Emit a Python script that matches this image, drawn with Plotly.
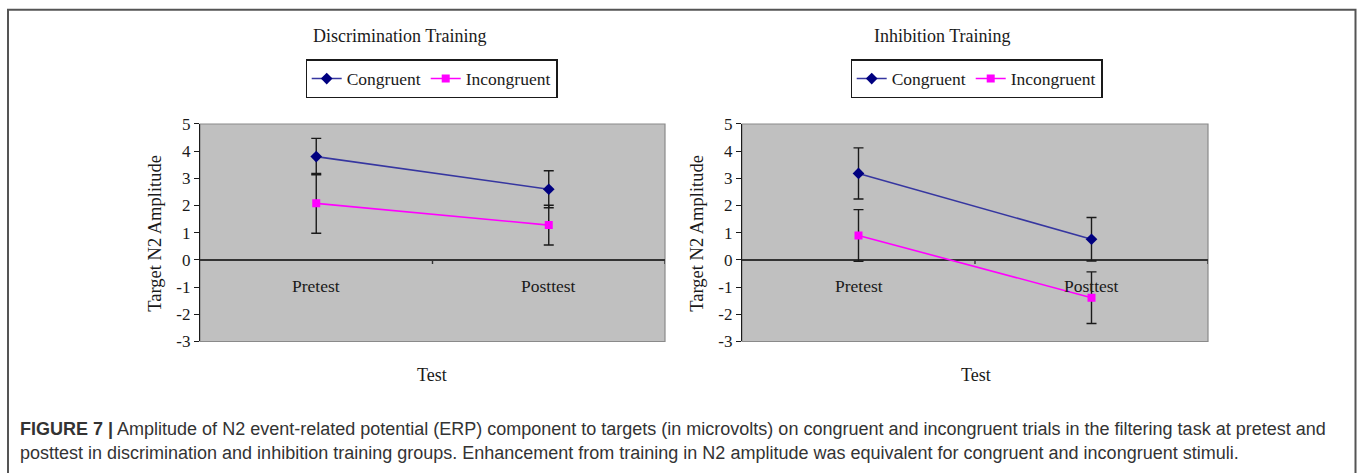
import plotly.graph_objects as go

W, H = 1357, 473

tests = ["Pretest", "Posttest"]
series_names = ["Congruent", "Incongruent"]

disc_congruent = [3.80, 2.60]
disc_congruent_err = [0.67, 0.68]
disc_incongruent = [2.08, 1.28]
disc_incongruent_err = [1.10, 0.73]

inhib_congruent = [3.18, 0.76]
inhib_congruent_err = [0.94, 0.80]
inhib_incongruent = [0.90, -1.39]
inhib_incongruent_err = [0.95, 0.95]

panel_titles = ["Discrimination Training", "Inhibition Training"]
y_ticks = [-3, -2, -1, 0, 1, 2, 3, 4, 5]
y_tick_labels = ["-3", "-2", "-1", "0", "1", "2", "3", "4", "5"]
y_title = "Target N2 Amplitude"
x_title = "Test"
caption_bold = "FIGURE 7 |"
caption_line1 = " Amplitude of N2 event-related potential (ERP) component to targets (in microvolts) on congruent and incongruent trials in the filtering task at pretest and"
caption_line2 = "posttest in discrimination and inhibition training groups. Enhancement from training in N2 amplitude was equivalent for congruent and incongruent stimuli."

SERIF = "Liberation Serif, Times New Roman, serif"
SANS = "Liberation Sans, Arial, sans-serif"
TXT = "#1a1a1a"

# vertical calibration of the capture (observed: shown = 0.9594*y + 8.37)
VS, VO = 0.9594, 8.37

def px(x):
    return x / W

def py(y):
    return 1 - ((y - VO) / VS) / H

fig = go.Figure()

panels = [
    dict(cong=disc_congruent, cerr=disc_congruent_err, inc=disc_incongruent, ierr=disc_incongruent_err,
         xd=[px(200), px(665)], xa="x", ya="y", legend="legend", cx=432, tx=400, ytx=155),
    dict(cong=inhib_congruent, cerr=inhib_congruent_err, inc=inhib_incongruent, ierr=inhib_incongruent_err,
         xd=[px(742), px(1208)], xa="x2", ya="y2", legend="legend2", cx=976, tx=942, ytx=697),
]

ydom = [py(340.7), py(123.3)]

for i, p in enumerate(panels):
    fig.add_trace(go.Scatter(
        x=tests, y=p["cong"], name=series_names[0], mode="lines+markers",
        line=dict(color="#3636a0", width=1.6),
        marker=dict(symbol="diamond", size=9, color="#000080"),
        error_y=dict(type="data", array=p["cerr"], visible=True, color="#1a1a1a", thickness=1.4, width=5),
        xaxis=p["xa"], yaxis=p["ya"], legend=p["legend"],
    ))
    fig.add_trace(go.Scatter(
        x=tests, y=p["inc"], name=series_names[1], mode="lines+markers",
        line=dict(color="#ff00ff", width=1.6),
        marker=dict(symbol="square", size=8, color="#ff00ff"),
        error_y=dict(type="data", array=p["ierr"], visible=True, color="#1a1a1a", thickness=1.4, width=5),
        xaxis=p["xa"], yaxis=p["ya"], legend=p["legend"],
    ))

axis_common_x = dict(range=[-0.5, 1.5], showticklabels=False, showgrid=False, zeroline=False,
                     showline=False, ticks="", fixedrange=True, type="category")
axis_common_y = dict(range=[-3, 5], tickvals=y_ticks, ticktext=y_tick_labels, showgrid=False, zeroline=True,
                     zerolinecolor="#333333", zerolinewidth=1.6, showline=True, linecolor="#1a1a1a",
                     linewidth=1.2, ticks="outside", ticklen=5, tickcolor="#1a1a1a",
                     tickfont=dict(family=SERIF, size=17, color=TXT), fixedrange=True)

legend_common = dict(orientation="h", xanchor="center", yanchor="middle",
                     bgcolor="white", bordercolor="#1a1a1a", borderwidth=1.2,
                     font=dict(family=SERIF, size=17.5, color=TXT), itemwidth=30, tracegroupgap=0)

fig.update_layout(
    width=W, height=H,
    margin=dict(l=0, r=0, t=0, b=0),
    paper_bgcolor="white",
    plot_bgcolor="#c0c0c0",
    showlegend=True,
    xaxis=dict(domain=panels[0]["xd"], anchor="y", **axis_common_x),
    yaxis=dict(domain=ydom, anchor="x", **axis_common_y),
    xaxis2=dict(domain=panels[1]["xd"], anchor="y2", **axis_common_x),
    yaxis2=dict(domain=ydom, anchor="x2", **axis_common_y),
    legend=dict(x=px(431.5), y=py(78.3), **legend_common),
    legend2=dict(x=px(976.5), y=py(78.3), **legend_common),
)

shapes = []
annotations = []
for i, p in enumerate(panels):
    xs = "" if i == 0 else "2"
    shapes.append(dict(type="rect", xref=f"x{xs} domain", yref=f"y{xs} domain", x0=0, x1=1, y0=0, y1=1,
                       line=dict(color="#8a8a8a", width=1.2), fillcolor="rgba(0,0,0,0)", layer="below"))
    for xb in [0.5, 1.5]:
        shapes.append(dict(type="line", xref=f"x{xs}", yref=f"y{xs}", x0=xb, x1=xb, y0=0, y1=-0.15,
                           line=dict(color="#333333", width=1.4)))
    for cat in tests:
        annotations.append(dict(text=cat, xref=f"x{xs}", yref=f"y{xs}", x=cat, y=0, yshift=-26,
                                showarrow=False, xanchor="center", yanchor="middle",
                                font=dict(family=SERIF, size=17.5, color=TXT)))
    annotations.append(dict(text=panel_titles[i], xref="paper", yref="paper", x=px(p["tx"]), y=py(35),
                            showarrow=False, xanchor="center", yanchor="middle",
                            font=dict(family=SERIF, size=18, color=TXT)))
    annotations.append(dict(text=x_title, xref="paper", yref="paper", x=px(p["cx"]), y=py(374),
                            showarrow=False, xanchor="center", yanchor="middle",
                            font=dict(family=SERIF, size=18, color=TXT)))
    annotations.append(dict(text=y_title, xref="paper", yref="paper", x=px(p["ytx"]), y=py(233),
                            showarrow=False, xanchor="center", yanchor="middle", textangle=-90,
                            font=dict(family=SERIF, size=18.5, color=TXT)))

annotations.append(dict(text=f"<b>{caption_bold}</b>{caption_line1}", xref="paper", yref="paper",
                        x=px(18), y=py(428), showarrow=False, xanchor="left", yanchor="middle",
                        font=dict(family=SANS, size=18, color="#333333")))
annotations.append(dict(text=caption_line2, xref="paper", yref="paper",
                        x=px(18), y=py(452), showarrow=False, xanchor="left", yanchor="middle",
                        font=dict(family=SANS, size=18, color="#333333")))

shapes.append(dict(type="rect", xref="paper", yref="paper", x0=px(8), x1=px(1355.5), y0=-0.05, y1=py(9),
                   line=dict(color="#555555", width=2), fillcolor="rgba(0,0,0,0)"))

fig.update_layout(shapes=shapes, annotations=annotations)

post = (
    "document.documentElement.style.margin='0';document.documentElement.style.overflow='hidden';"
    "document.body.style.margin='0';document.body.style.overflow='hidden';"
    "var gd=document.getElementById('{plot_id}');"
    "gd.style.position='fixed';gd.style.top='0px';gd.style.left='0px';"
)

fig.write_html("out.html", config={"displayModeBar": False}, post_script=post)
